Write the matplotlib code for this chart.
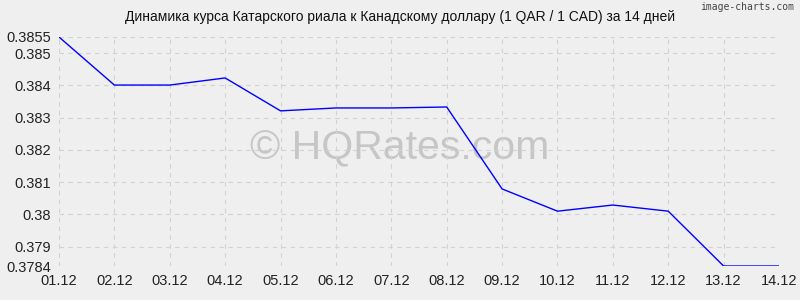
import matplotlib
matplotlib.use('Agg')
import matplotlib.pyplot as plt

dates = ['01.12', '02.12', '03.12', '04.12', '05.12', '06.12', '07.12',
         '08.12', '09.12', '10.12', '11.12', '12.12', '13.12', '14.12']
rates = [0.3855, 0.38401, 0.38401, 0.38423, 0.38321, 0.38330, 0.38330,
         0.38333, 0.38079, 0.38010, 0.38029, 0.38010, 0.3784, 0.3784]
yticks = [0.3784, 0.379, 0.38, 0.381, 0.382, 0.383, 0.384, 0.385, 0.3855]
ylabels = ['0.3784', '0.379', '0.38', '0.381', '0.382', '0.383', '0.384', '0.385', '0.3855']

plt.rcParams['font.family'] = ['Liberation Sans', 'DejaVu Sans']
bg = '#efefef'

fig = plt.figure(figsize=(8, 3), dpi=100, facecolor=bg)
ax = fig.add_axes([59/800, 1-266/300, 720/800, 229/300])
ax.set_facecolor(bg)

x = list(range(len(dates)))
ax.plot(x, rates, color='#0000ff', lw=1, zorder=3)

ax.set_xlim(0, len(dates)-1)
ax.set_ylim(0.3784, 0.3855)
ax.set_xticks(x)
ax.set_xticklabels(dates, fontsize=10.5)
ax.set_yticks(yticks)
ax.set_yticklabels(ylabels, fontsize=10.5)
ax.tick_params(length=0, pad=6, colors='#222222')
for s in ax.spines.values():
    s.set_visible(False)
ax.grid(True, color='#d2d2d2', ls=(0, (4, 4)), lw=0.8)

# watermark behind the line
ax.text(0.5, 1-148/300, '© HQRates.com', transform=fig.transFigure, fontsize=29.5,
        color='#c6c6c6', ha='center', va='center', zorder=1)

fig.text(0.5, 1-17/300, 'Динамика курса Катарского риала к Канадскому доллару (1 QAR / 1 CAD) за 14 дней',
         ha='center', va='center', fontsize=10, color='#111111')
fig.text(0.993, 1-7/300, 'image-charts.com', ha='right', va='center',
         fontsize=7, color='#444444', family='DejaVu Sans Mono')

fig.savefig('out.png', dpi=100, facecolor=bg)
